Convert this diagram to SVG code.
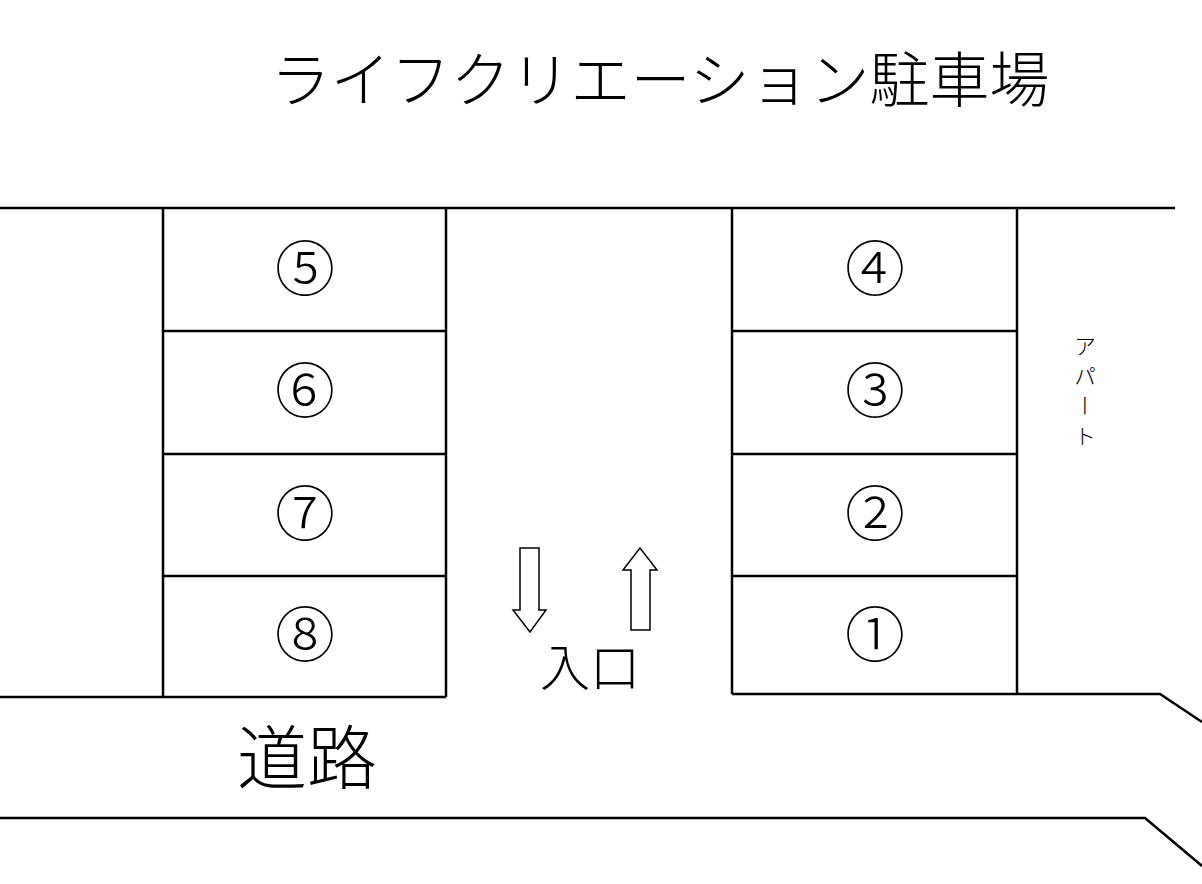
<svg xmlns="http://www.w3.org/2000/svg" width="1202" height="884" viewBox="0 0 1202 884">
<style>
.l{stroke:#000;stroke-width:2.5;fill:none}
.a{stroke:#000;stroke-width:1.5;fill:#fff}
text{font-family:"Noto Sans CJK JP","DejaVu Sans",sans-serif;font-weight:300;fill:#000;text-anchor:middle}
.n{font-size:60px}
</style>
<rect width="1202" height="884" fill="#fff"/>
<text x="660" y="102" font-size="60">ライフクリエーション駐車場</text>
<g id="connectors">
<path class="l" d="M0 208H1175M0 697H446M732 694H1160L1202 722M0 818H1145L1202 866"/>
</g>
<g id="left">
<path class="l" d="M163 209V697M446 209V697M163 331H446M163 454H446M163 576H446"/>
</g>
<g id="right">
<path class="l" d="M732 209V694M1017 209V694M732 331H1017M732 454H1017M732 576H1017"/>
</g>
<g id="s5"><text class="n" x="305" y="291">⑤</text></g>
<g id="s6"><text class="n" x="305" y="413">⑥</text></g>
<g id="s7"><text class="n" x="305" y="536">⑦</text></g>
<g id="s8"><text class="n" x="305" y="657">⑧</text></g>
<g id="s4"><text class="n" x="875" y="291">④</text></g>
<g id="s3"><text class="n" x="875" y="413">③</text></g>
<g id="s2"><text class="n" x="875" y="536">②</text></g>
<g id="s1"><text class="n" x="875" y="657">①</text></g>
<g id="arrows">
<path class="a" d="M520 548H539V610H546L530 632L513 610H520Z"/>
<path class="a" d="M631 630H650V570H657L640 548L623 570H631Z"/>
</g>
<text x="590" y="686" font-size="50">入口</text>
<text x="307" y="784" font-size="70">道路</text>
<text x="1085" y="335" font-size="22" letter-spacing="8" style="writing-mode:vertical-rl;text-anchor:start">アパート</text>
</svg>
